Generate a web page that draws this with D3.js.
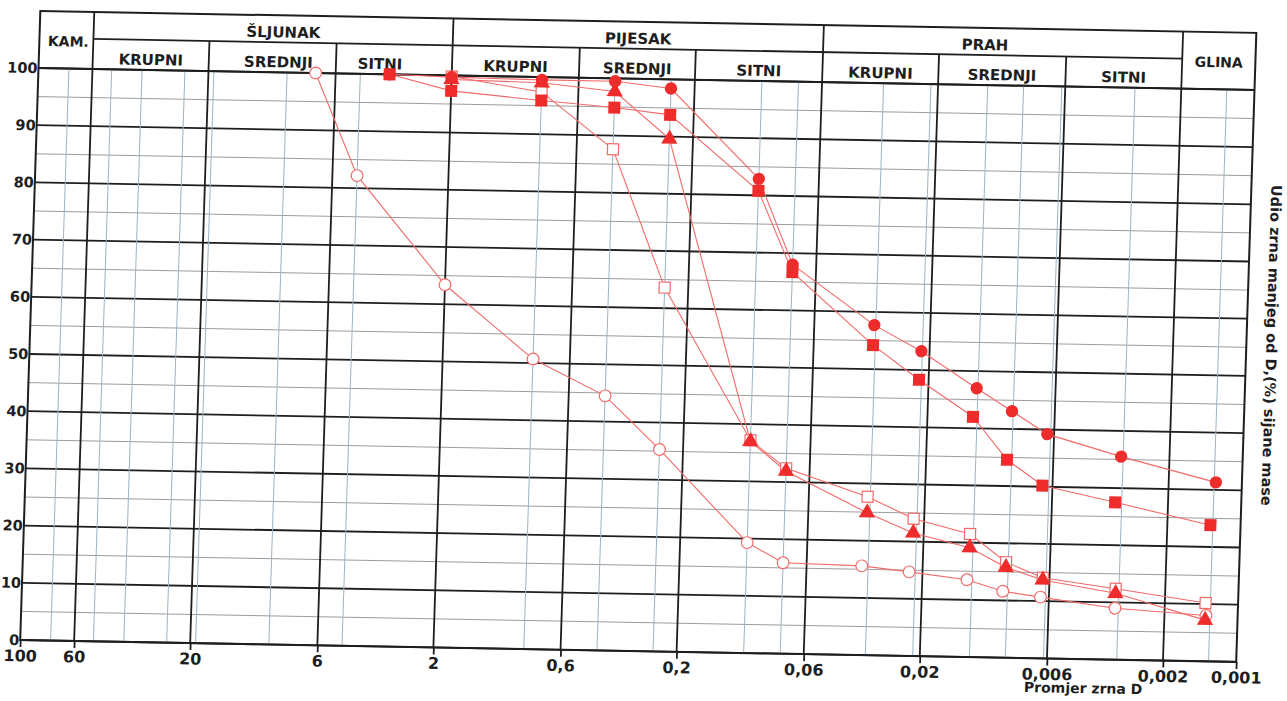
<!DOCTYPE html>
<html>
<head>
<meta charset="utf-8">
<script src="https://cdn.jsdelivr.net/npm/d3@7"></script>
<style>
  html, body { margin: 0; padding: 0; background: #fff; }
  svg { display: block; }
  text { font-family: "DejaVu Sans", Verdana, sans-serif; font-weight: bold; fill: #1e1e1e; }
</style>
</head>
<body>
<svg id="chart" width="1287" height="701"></svg>
<script>
// ---- Grain size distribution data: diameter D (mm) and % passing ----
const dOpenCircle  = [7.25, 4.75, 2, 0.85, 0.425, 0.25, 0.106, 0.075, 0.0356, 0.0227, 0.0131, 0.0093, 0.0065, 0.0032, 0.00135];
const pOpenCircle  = [100, 82.2, 63.4, 50.7, 44.5, 35.3, 19.3, 15.9, 15.6, 14.7, 13.5, 11.6, 10.7, 9.0, 8.0];

const dOpenSquare  = [2, 0.85, 0.425, 0.25, 0.106, 0.075, 0.0344, 0.0221, 0.0129, 0.0091, 0.0064, 0.0032, 0.00136];
const pOpenSquare  = [99.8, 97.4, 87.6, 63.6, 37.2, 32.4, 27.7, 24.0, 21.5, 16.7, 14.1, 12.4, 10.2];

const dTriangle    = [2, 0.85, 0.425, 0.25, 0.106, 0.075, 0.0344, 0.0221, 0.0129, 0.0091, 0.0064, 0.0032, 0.00136];
const pTriangle    = [99.3, 99.0, 97.7, 89.6, 37.0, 31.9, 24.9, 21.5, 19.1, 15.8, 13.7, 11.6, 7.2];

const dSquare      = [3.6, 2, 0.85, 0.425, 0.25, 0.106, 0.075, 0.0342, 0.0219, 0.013, 0.0093, 0.0066, 0.0033, 0.00133];
const pSquare      = [100, 97.3, 95.9, 94.9, 93.8, 80.8, 66.7, 54.2, 48.3, 42.0, 34.6, 30.2, 27.5, 23.8];

const dCircle      = [3.6, 2, 0.85, 0.425, 0.25, 0.106, 0.075, 0.034, 0.0216, 0.01266, 0.009, 0.0064, 0.00316, 0.00128];
const pCircle      = [100, 99.7, 99.5, 99.5, 98.4, 82.9, 68.0, 57.7, 53.3, 47.0, 43.1, 39.2, 35.5, 31.3];

// ---- Axis ticks and grid ----
const xTickValues  = [100, 60, 20, 6, 2, 0.6, 0.2, 0.06, 0.02, 0.006, 0.002, 0.001];
const yTickValues  = [0, 10, 20, 30, 40, 50, 60, 70, 80, 90, 100];
const majorBounds  = [60, 20, 6, 2, 0.6, 0.2, 0.06, 0.02, 0.006, 0.002];
const minorLinesD  = [75, 50, 37.5, 25, 19, 9.5, 4.75, 0.85, 0.425, 0.25, 0.106, 0.075,
                      0.0335, 0.0214, 0.0125, 0.0089, 0.0062, 0.0031, 0.0013];

// ---- Soil classification header ----
const groupNames   = ["ŠLJUNAK", "PIJESAK", "PRAH"];
const groupFrom    = [60, 2, 0.06];
const groupTo      = [2, 0.06, 0.002];
const subNames     = ["KRUPNI", "SREDNJI", "SITNI", "KRUPNI", "SREDNJI", "SITNI", "KRUPNI", "SREDNJI", "SITNI"];
const subFrom      = [60, 20, 6, 2, 0.6, 0.2, 0.06, 0.02, 0.006];
const subTo        = [20, 6, 2, 0.6, 0.2, 0.06, 0.02, 0.006, 0.002];

// ---- Layout ----
const W = 1216, H = 572, HEAD = 57, DIV = 30;
const ink = "#1e1e1e", red = "#ee2c2c", redLine = "#f26a6a";

const svg = d3.select("#chart");
svg.append("rect").attr("width", 1287).attr("height", 701).attr("fill", "#fff");

// The sheet sits slightly skewed on the page
const g = svg.append("g").attr("transform", "matrix(1,0.018,-0.032,1,38.5,68)");

const x = d3.scaleLog().domain([100, 0.001]).range([0, W]);
const y = d3.scaleLinear().domain([0, 100]).range([H, 0]);

const locale = d3.formatLocale({ decimal: ",", thousands: ".", grouping: [3], currency: ["", ""] });
const fmt = locale.format("~g");

// Horizontal grid: thin every 5 %, heavy every 10 %
const hLines = d3.range(0, 101, 5);
g.append("g").selectAll("line").data(hLines).join("line")
  .attr("x1", 0).attr("x2", W)
  .attr("y1", d => y(d)).attr("y2", d => y(d))
  .attr("stroke", d => d % 10 === 0 ? ink : "#929292")
  .attr("stroke-width", d => d % 10 === 0 ? 1.8 : 0.9);

// Thin vertical lines at sieve and hydrometer diameters
g.append("g").selectAll("line").data(minorLinesD).join("line")
  .attr("x1", d => x(d)).attr("x2", d => x(d))
  .attr("y1", 0).attr("y2", H)
  .attr("stroke", "#9db4c4").attr("stroke-width", 1);

// Heavy vertical lines at fraction boundaries (continue into the header)
const groupBounds = [60, 2, 0.06, 0.002];
g.append("g").selectAll("line").data(majorBounds).join("line")
  .attr("x1", d => x(d)).attr("x2", d => x(d))
  .attr("y1", d => groupBounds.includes(d) ? -HEAD : -DIV).attr("y2", H)
  .attr("stroke", ink).attr("stroke-width", 1.8);

// Header frame and dividers
g.append("rect").attr("x", 0).attr("y", -HEAD).attr("width", W).attr("height", HEAD + H)
  .attr("fill", "none").attr("stroke", ink).attr("stroke-width", 2);
g.append("line").attr("x1", 0).attr("x2", W).attr("y1", 0).attr("y2", 0)
  .attr("stroke", ink).attr("stroke-width", 2);
g.append("line").attr("x1", x(60)).attr("x2", x(0.002)).attr("y1", -DIV).attr("y2", -DIV)
  .attr("stroke", ink).attr("stroke-width", 1.8);

// Header labels
const groupNudge = [10, 0, -18];
g.append("g").selectAll("text").data(groupNames).join("text")
  .attr("x", (d, i) => (x(groupFrom[i]) + x(groupTo[i])) / 2 + groupNudge[i])
  .attr("y", -35).attr("text-anchor", "middle").attr("font-size", 15).text(d => d);
const subNudge = [0, 6, -14, 0, 0, 0, 0, 0, 0];
g.append("g").selectAll("text").data(subNames).join("text")
  .attr("x", (d, i) => (x(subFrom[i]) + x(subTo[i])) / 2 + subNudge[i])
  .attr("y", -5).attr("text-anchor", "middle").attr("font-size", 15).text(d => d);
g.append("text").attr("x", x(60) / 2 + 2).attr("y", -27).attr("dy", "0.35em")
  .attr("text-anchor", "middle").attr("font-size", 14).text("KAM.");
g.append("text").attr("x", (x(0.002) + W) / 2).attr("y", -27).attr("dy", "0.35em")
  .attr("text-anchor", "middle").attr("font-size", 14).text("GLINA");

// Bottom axis (diameter, log scale)
const xAxis = d3.axisBottom(x).tickValues(xTickValues).tickFormat(fmt).tickSize(7).tickPadding(3);
const xa = g.append("g").attr("transform", `translate(0,${H})`).call(xAxis);
xa.select(".domain").remove();
xa.selectAll(".tick line").attr("stroke", ink).attr("stroke-width", 1.8);
xa.selectAll(".tick text").attr("fill", ink).attr("font-size", 16)
  .attr("font-family", "DejaVu Sans, Verdana, sans-serif").attr("font-weight", "bold");

// Left axis (percent passing)
const yAxis = d3.axisLeft(y).tickValues(yTickValues).tickSize(0).tickPadding(1);
const ya = g.append("g").call(yAxis);
ya.select(".domain").remove();
ya.selectAll(".tick text").attr("fill", ink).attr("font-size", 14.5)
  .attr("font-family", "DejaVu Sans, Verdana, sans-serif").attr("font-weight", "bold");

// Axis titles
g.append("text").attr("x", x(0.006) - 22).attr("y", H + 34)
  .attr("font-size", 14).text("Promjer zrna D");
g.append("text").attr("transform", `translate(${W + 20},${255}) rotate(90)`)
  .attr("text-anchor", "middle").attr("font-size", 14.5)
  .text("Udio zrna manjeg od D,(%) sijane mase");

// ---- Curves ----
const series = [
  { d: dOpenCircle, p: pOpenCircle, shape: d3.symbolCircle,   size: 108, filled: false },
  { d: dOpenSquare, p: pOpenSquare, shape: d3.symbolSquare,   size: 121, filled: false },
  { d: dTriangle,   p: pTriangle,   shape: d3.symbolTriangle, size: 115, filled: true  },
  { d: dSquare,     p: pSquare,     shape: d3.symbolSquare,   size: 144, filled: true  },
  { d: dCircle,     p: pCircle,     shape: d3.symbolCircle,   size: 120, filled: true  }
];

const line = d3.line().x(v => x(v[0])).y(v => y(v[1]));
const curves = g.append("g");
series.forEach(s => {
  const pts = s.d.map((dv, i) => [dv, s.p[i]]);
  curves.append("path").datum(pts).attr("d", line)
    .attr("fill", "none").attr("stroke", redLine).attr("stroke-width", 1.1);
});
series.forEach(s => {
  const pts = s.d.map((dv, i) => [dv, s.p[i]]);
  curves.append("g").selectAll("path").data(pts).join("path")
    .attr("transform", v => `translate(${x(v[0])},${y(v[1])})`)
    .attr("d", d3.symbol().type(s.shape).size(s.size))
    .attr("fill", s.filled ? red : "#fff")
    .attr("stroke", s.filled ? "none" : redLine)
    .attr("stroke-width", 1.2);
});
</script>
</body>
</html>
